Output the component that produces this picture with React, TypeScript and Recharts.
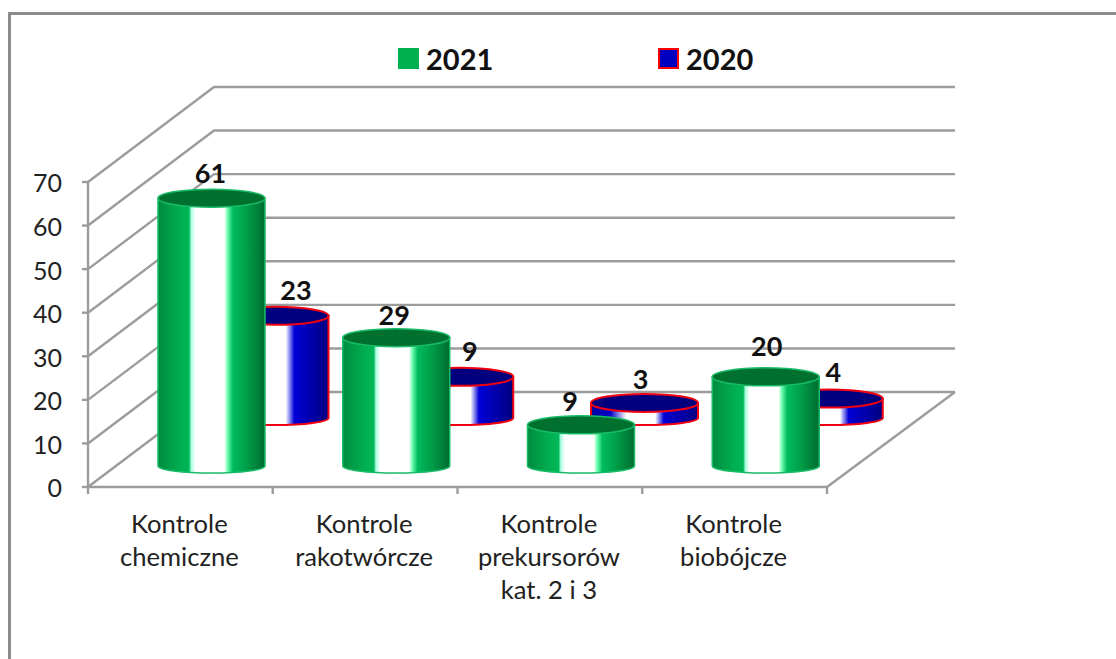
import { BarChart, Bar, XAxis, YAxis, CartesianGrid, LabelList, Legend } from 'recharts'

const categories = [
  'Kontrole\nchemiczne',
  'Kontrole\nrakotwórcze',
  'Kontrole\nprekursorów\nkat. 2 i 3',
  'Kontrole\nbiobójcze',
]
const values2021 = [61, 29, 9, 20]
const values2020 = [23, 9, 3, 4]
const yTicks = [0, 10, 20, 30, 40, 50, 60, 70]

// hand placed label nudges, the source chart has them moved around
const labelNudge2021 = [[-1, -26], [-2, -23], [-11, -24], [1, -31]]
const labelNudge2020 = [[21, -26], [10, -26], [-4, -24], [4, -27]]

const data = categories.map((name, i) => ({
  name,
  y2021: values2021[i],
  y2020: values2020[i],
}))

const FONT = 'Lato, sans-serif'
const GREY = '#9c9c9c'
const DEPTH_X = 126
const DEPTH_Y = 95
const PLOT_BOTTOM = 487
const BAND = (827 - 88) / categories.length
const CYL_W = 107

const style2021 = { dx: 31, topLift: 23, baseLift: 21, fill: 'url(#green)', top: '#00702f', stroke: '#18bc68', strokeWidth: 1.5 }
const style2020 = { dx: 94.5, topLift: 71, baseLift: 69, fill: 'url(#blue)', top: '#00007f', stroke: '#f00010', strokeWidth: 2 }

function cylinder(s: typeof style2021) {
  return (props: any) => {
    const { x, y, width, height } = props
    const cx = x + width / 2 + s.dx
    const rx = CYL_W / 2
    const top = y - s.topLift
    const base = y + height - s.baseLift
    const body = `M${cx - rx},${top} L${cx - rx},${base} A${rx},7 0 0 0 ${cx + rx},${base} L${cx + rx},${top} Z`
    return (
      <g>
        <path d={body} fill={s.fill} stroke={s.stroke} strokeWidth={s.strokeWidth} />
        <ellipse cx={cx} cy={top} rx={rx} ry={9} fill={s.top} stroke={s.stroke} strokeWidth={s.strokeWidth} />
      </g>
    )
  }
}

function valueLabel(s: typeof style2021, nudge: number[][]) {
  return (props: any) => {
    const { x, y, width, value, index } = props
    return (
      <text
        x={x + width / 2 + s.dx + nudge[index][0]}
        y={y - s.topLift + nudge[index][1]}
        textAnchor="middle"
        dominantBaseline="central"
        fontFamily={FONT}
        fontWeight={700}
        fontSize={27}
        fill="#111"
      >
        {value}
      </text>
    )
  }
}

function GridLine(props: any) {
  const { x1, x2, y1 } = props
  const backY = y1 - DEPTH_Y
  return (
    <g key={props.key} fill="none" stroke={GREY} strokeWidth={2.4}>
      <polyline points={`${x1},${y1} ${x1 + DEPTH_X},${backY} ${x2 + DEPTH_X + 2},${backY}`} />
      {Math.abs(y1 - PLOT_BOTTOM) < 1 && (
        <line x1={x2} y1={y1} x2={x2 + DEPTH_X + 2} y2={backY} />
      )}
    </g>
  )
}

function CategoryTick(props: any) {
  const { x, payload, index } = props
  const lines: string[] = payload.value.split('\n')
  const left = x - BAND / 2
  return (
    <g>
      <line x1={left} y1={PLOT_BOTTOM} x2={left} y2={PLOT_BOTTOM + 7} stroke={GREY} strokeWidth={2.4} />
      {index === categories.length - 1 && (
        <line x1={x + BAND / 2} y1={PLOT_BOTTOM} x2={x + BAND / 2} y2={PLOT_BOTTOM + 7} stroke={GREY} strokeWidth={2.4} />
      )}
      <text textAnchor="middle" fontFamily={FONT} fontSize={25.6} fill="#222">
        {lines.map((l, i) => (
          <tspan key={l} x={x - 1} y={PLOT_BOTTOM + 46 + i * 33}>
            {l}
          </tspan>
        ))}
      </text>
    </g>
  )
}

function LegendBox() {
  const items = [
    { label: '2021', fill: '#00b050', stroke: '#00b050' },
    { label: '2020', fill: '#0000c0', stroke: '#ff0000' },
  ]
  return (
    <div style={{ display: 'flex', fontFamily: FONT, fontWeight: 700, fontSize: 29, color: '#111' }}>
      {items.map((it) => (
        <div key={it.label} style={{ display: 'flex', alignItems: 'center', width: 260 }}>
          <span
            style={{
              width: 17,
              height: 17,
              background: it.fill,
              border: `2px solid ${it.stroke}`,
              marginRight: 7,
            }}
          />
          {it.label}
        </div>
      ))}
    </div>
  )
}

export default function App() {
  return (
    <div style={{ position: 'absolute', left: 0, top: 0, width: 1116, height: 659, overflow: 'hidden', background: '#fff' }}>
      <div
        style={{
          position: 'absolute',
          left: 8,
          top: 12,
          width: 1120,
          height: 700,
          borderTop: '3px solid #8c8c8c',
          borderLeft: '3px solid #8c8c8c',
        }}
      />
      <div style={{ position: 'absolute', left: 0, top: 0 }}>
        <BarChart
          width={1116}
          height={659}
          data={data}
          barGap={-CYL_W}
          barSize={CYL_W}
          margin={{ top: 182, right: 289, left: 0, bottom: 72 }}
        >
          <defs>
            <linearGradient id="green" x1="0" y1="0" x2="1" y2="0">
              <stop offset="0" stopColor="#008a40" />
              <stop offset="0.18" stopColor="#00ab4e" />
              <stop offset="0.29" stopColor="#00b858" />
              <stop offset="0.31" stopColor="#a8ffe0" />
              <stop offset="0.35" stopColor="#ffffff" />
              <stop offset="0.62" stopColor="#ffffff" />
              <stop offset="0.65" stopColor="#70ffb0" />
              <stop offset="0.7" stopColor="#00bc5e" />
              <stop offset="0.82" stopColor="#00a04a" />
              <stop offset="1" stopColor="#006c30" />
            </linearGradient>
            <linearGradient id="blue" x1="0" y1="0" x2="1" y2="0">
              <stop offset="0" stopColor="#0000a0" />
              <stop offset="0.18" stopColor="#0000c8" />
              <stop offset="0.33" stopColor="#ffffff" />
              <stop offset="0.6" stopColor="#ffffff" />
              <stop offset="0.68" stopColor="#0000d8" />
              <stop offset="0.85" stopColor="#0000a8" />
              <stop offset="1" stopColor="#000080" />
            </linearGradient>
          </defs>
          <CartesianGrid vertical={false} horizontal={GridLine} />
          <XAxis
            dataKey="name"
            interval={0}
            height={100}
            tickLine={false}
            axisLine={{ stroke: GREY, strokeWidth: 2.4 }}
            tick={CategoryTick}
          />
          <YAxis
            domain={[0, 70]}
            ticks={yTicks}
            width={88}
            interval={0}
            tickSize={6}
            tickMargin={20}
            axisLine={{ stroke: GREY, strokeWidth: 2.4 }}
            tickLine={{ stroke: GREY, strokeWidth: 2.4 }}
            tick={{ fill: '#222', fontSize: 25, fontFamily: FONT, dy: 1.5 }}
          />
          <Legend
            layout="horizontal"
            align="center"
            verticalAlign="middle"
            content={LegendBox}
            wrapperStyle={{ left: 398, top: 41, width: 520, height: 40 }}
          />
          <Bar dataKey="y2020" isAnimationActive={false} shape={cylinder(style2020)}>
            <LabelList dataKey="y2020" content={valueLabel(style2020, labelNudge2020)} />
          </Bar>
          <Bar dataKey="y2021" isAnimationActive={false} shape={cylinder(style2021)}>
            <LabelList dataKey="y2021" content={valueLabel(style2021, labelNudge2021)} />
          </Bar>
        </BarChart>
      </div>
    </div>
  )
}
